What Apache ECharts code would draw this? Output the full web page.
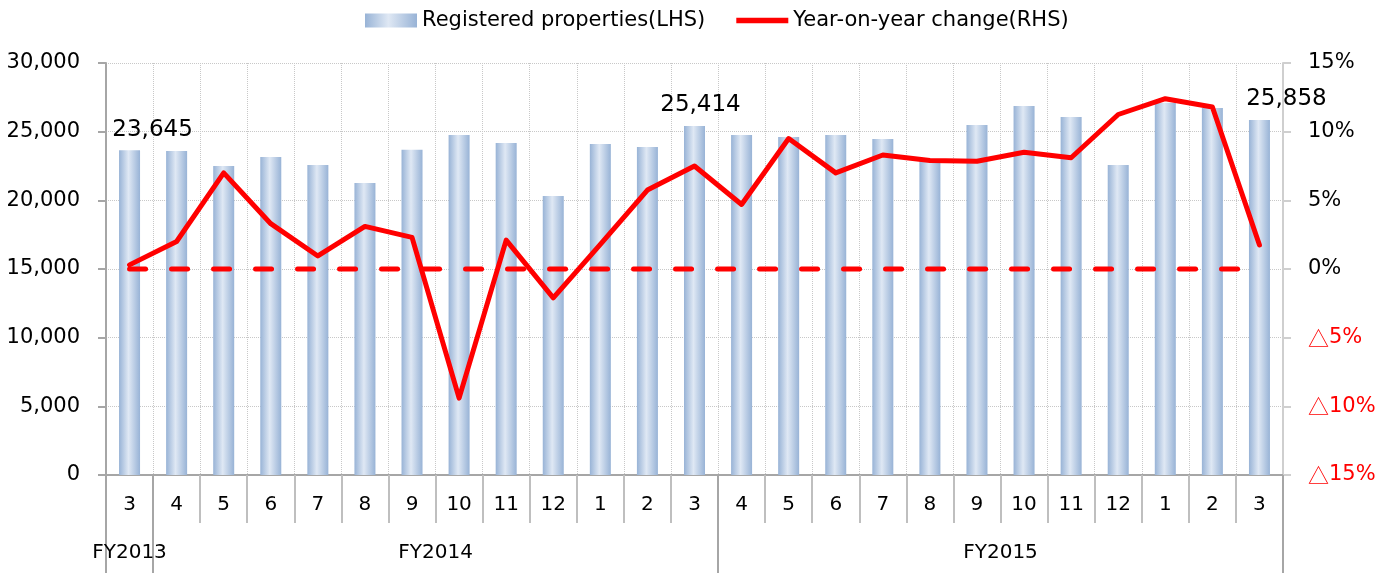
<!DOCTYPE html>
<html>
<head>
<meta charset="utf-8">
<script src="https://cdn.jsdelivr.net/npm/echarts@6/dist/echarts.min.js"></script>
<style>
html,body{margin:0;padding:0;background:#fff;}
#chart{width:1389px;height:573px;}
</style>
</head>
<body>
<div id="chart"></div>
<script>
const months = ['3','4','5','6','7','8','9','10','11','12','1','2','3','4','5','6','7','8','9','10','11','12','1','2','3'];
const registered = [23645, 23600, 22500, 23150, 22570, 21260, 23680, 24760, 24180, 20320, 24100, 23880, 25414, 24760, 24620, 24760, 24470, 22900, 25490, 26870, 26070, 22570, 27100, 26720, 25858];
const yoyChange = [0.3, 2.0, 7.0, 3.3, 0.95, 3.1, 2.3, -9.4, 2.1, -2.1, 1.8, 5.75, 7.5, 4.7, 9.5, 7.0, 8.3, 7.9, 7.85, 8.5, 8.1, 11.25, 12.4, 11.8, 1.75];
const zeroRef = [0,0,0,0,0,0,0,0,0,0,0,0,0,0,0,0,0,0,0,0,0,0,0,0,0];
const labeledIdx = [0, 12, 24];
const fyGroups = ['FY2013', 'FY2014', 'FY2015'];
const fyBounds = [0, 1, 13, 25];
const leftTicks = [0, 5000, 10000, 15000, 20000, 25000, 30000];
const rightTicks = [-15, -10, -5, 0, 5, 10, 15];

const FONT = 'DejaVu Sans';
const CJK = 'Noto Sans CJK JP';
const chart = echarts.init(document.getElementById('chart'), null, {renderer: 'canvas'});

const fyCenters = fyGroups.map((g, i) => (fyBounds[i] + fyBounds[i + 1]) / 2);

// horizontal label nudges for the three annotated bars (style only)
const labelNudge = {0: 23, 12: 6, 24: 27};

const barGrad = new echarts.graphic.LinearGradient(0, 0, 1, 0, [
  {offset: 0, color: '#98b3d6'},
  {offset: 0.45, color: '#dfe8f4'},
  {offset: 1, color: '#98b3d6'}
]);

const barData = registered.map((v, i) => labeledIdx.includes(i)
  ? {value: v, label: {show: true, offset: [labelNudge[i] || 0, 0]}}
  : {value: v});

const option = {
  animation: false,
  textStyle: {fontFamily: FONT},
  legend: {
    left: 360,
    top: 5,
    itemWidth: 52,
    itemHeight: 14,
    itemGap: 31,
    textStyle: {fontFamily: FONT, fontSize: 21, color: '#000'},
    data: [
      {name: 'Registered properties(LHS)', icon: 'rect'},
      {name: 'Year-on-year change(RHS)', icon: 'path://M0,0L57,0L57,6L0,6Z', itemStyle: {color: '#ff0000'}, lineStyle: {width: 6, color: '#ff0000', cap: 'round'}}
    ]
  },
  grid: {left: 106, right: 106, top: 63, bottom: 98, containLabel: false},
  xAxis: [
    {
      type: 'category',
      data: months,
      boundaryGap: true,
      axisLine: {show: true, onZero: false, lineStyle: {color: '#a6a6a6', width: 2}},
      axisTick: {show: true, interval: 0, length: 48, lineStyle: {color: '#bfbfbf', width: 2}},
      axisLabel: {interval: 0, margin: 20, fontSize: 20, color: '#000', fontFamily: FONT},
      splitLine: {show: true, interval: 0, lineStyle: {color: '#c8c8c8', type: 'dotted', width: 1}}
    },
    {
      type: 'value',
      position: 'bottom',
      offset: 0,
      min: fyBounds[0],
      max: fyBounds[fyBounds.length - 1],
      axisLine: {show: false, onZero: false},
      splitLine: {show: false},
      axisTick: {show: true, length: 98, customValues: fyBounds, lineStyle: {color: '#a6a6a6', width: 2}},
      axisLabel: {
        show: true,
        margin: 68,
        fontSize: 20,
        color: '#000',
        fontFamily: FONT,
        customValues: fyCenters,
        formatter: function (v) {
          const idx = fyCenters.indexOf(Number(v));
          return idx >= 0 ? fyGroups[idx] : '';
        }
      }
    }
  ],
  yAxis: [
    {
      type: 'value',
      min: leftTicks[0],
      max: leftTicks[leftTicks.length - 1],
      interval: leftTicks[1] - leftTicks[0],
      position: 'left',
      axisLine: {show: true, onZero: false, lineStyle: {color: '#a6a6a6', width: 2}},
      axisTick: {show: true, length: 8, lineStyle: {color: '#a6a6a6', width: 2}},
      axisLabel: {
        margin: 26, fontSize: 21, color: '#000', fontFamily: FONT,
        formatter: v => Number(v).toLocaleString('en-US')
      },
      splitLine: {show: true, lineStyle: {color: '#c8c8c8', type: 'dotted', width: 1}}
    },
    {
      type: 'value',
      min: rightTicks[0],
      max: rightTicks[rightTicks.length - 1],
      interval: rightTicks[1] - rightTicks[0],
      position: 'right',
      axisLine: {show: true, onZero: false, lineStyle: {color: '#cfcfcf', width: 2}},
      axisTick: {show: true, length: 8, lineStyle: {color: '#cfcfcf', width: 2}},
      axisLabel: {
        margin: 25, fontSize: 21, fontFamily: FONT, color: '#000',
        formatter: v => (v < 0 ? '{t|\u25B3}{r|' + (-v) + '%}' : v + '%'),
        rich: {
          t: {fontFamily: CJK, fontSize: 21, color: '#ff0000'},
          r: {fontFamily: FONT, fontSize: 21, color: '#ff0000'}
        }
      },
      splitLine: {show: false}
    }
  ],
  series: [
    {
      name: 'Registered properties(LHS)',
      type: 'bar',
      xAxisIndex: 0,
      yAxisIndex: 0,
      barWidth: 21,
      data: barData,
      itemStyle: {color: barGrad},
      label: {
        show: false,
        position: 'top',
        distance: 9,
        fontSize: 23,
        color: '#000',
        fontFamily: FONT,
        formatter: p => Number(p.value).toLocaleString('en-US')
      },
      z: 2
    },
    {
      name: 'zero',
      type: 'line',
      xAxisIndex: 0,
      yAxisIndex: 1,
      data: zeroRef,
      symbol: 'none',
      lineStyle: {color: '#ff0000', width: 5, type: [16, 26], cap: 'round'},
      z: 3,
      silent: true
    },
    {
      name: 'Year-on-year change(RHS)',
      type: 'line',
      xAxisIndex: 0,
      yAxisIndex: 1,
      data: yoyChange,
      symbol: 'none',
      lineStyle: {color: '#ff0000', width: 5, cap: 'round', join: 'round'},
      itemStyle: {color: '#ff0000'},
      z: 4
    }
  ]
};
chart.setOption(option);
</script>
</body>
</html>
